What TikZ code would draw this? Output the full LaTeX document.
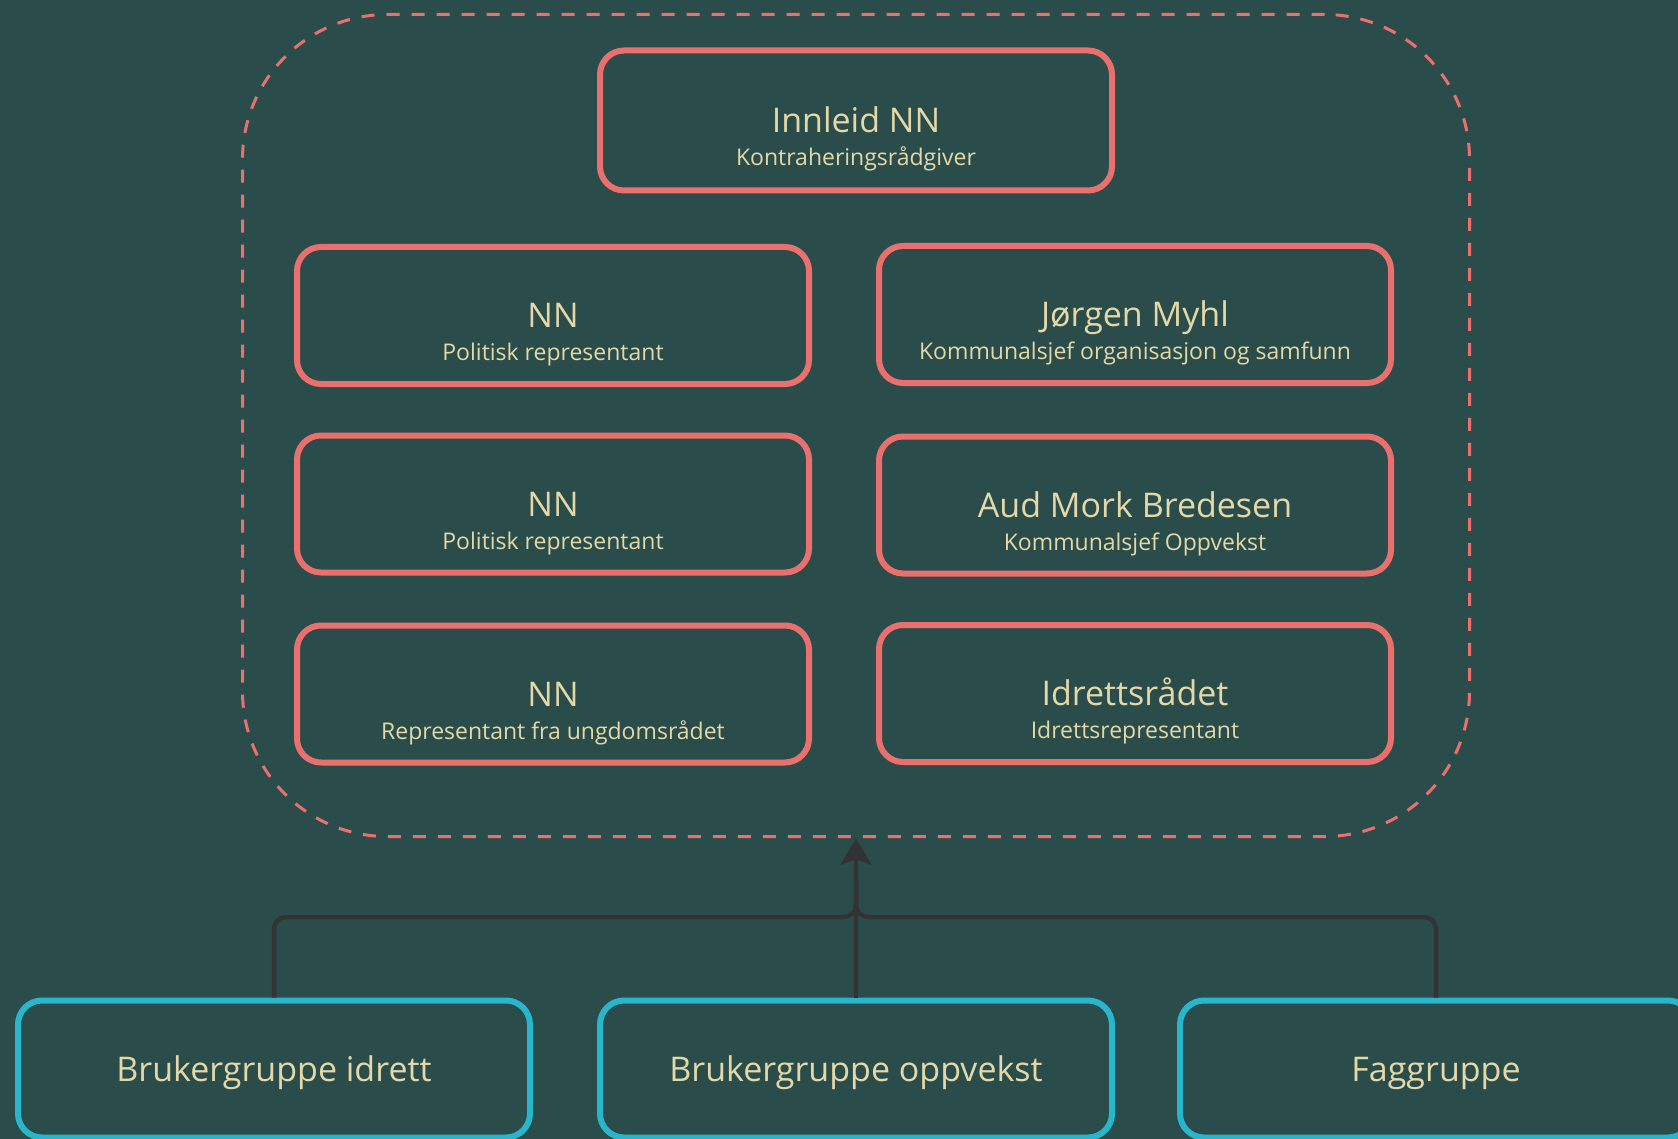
\documentclass[tikz,border=0pt]{standalone}
\usepackage{fontspec}
\setmainfont{Open Sans}
\usetikzlibrary{arrows.meta}
\definecolor{bgteal}{RGB}{42,77,75}
\definecolor{salmon}{RGB}{234,112,110}
\definecolor{cyanbox}{RGB}{40,182,204}
\definecolor{cream}{RGB}{228,216,168}
\definecolor{darkline}{RGB}{51,51,51}
\tikzset{
	member/.style={draw=salmon, line width=6pt, rounded corners=24pt, fill=bgteal, minimum width=512pt, minimum height=137pt, text=cream, font=\fontsize{34}{40}\selectfont, text height=24pt, text depth=0pt},
	role/.style={text=cream, font=\fontsize{23}{28}\selectfont, text height=16pt, text depth=0pt, yshift=-37pt},
	usergroup/.style={member, draw=cyanbox},
	team/.style={draw=salmon, line width=3pt, dash pattern=on 13pt off 12pt, rounded corners=145pt, minimum width=1227pt, minimum height=822pt},
	link/.style={draw=darkline, line width=4.5pt}
}
\begin{document}
\begin{tikzpicture}[x=1pt,y=-1pt]
	\useasboundingbox (0,0) rectangle (1678,1139);
	\fill[bgteal] (0,0) rectangle (1678,1139);
	\clip (0,0) rectangle (1678,1139);
	\node[team] (team) at (856,425.5) {};
	\node[member, minimum height=140pt, label={[role]center:Kontraheringsrådgiver}] (innleid) at (856,120.5) {Innleid NN};
	\node[member, label={[role]center:Politisk representant}] (nnPolA) at (553,315.5) {NN};
	\node[member, label={[role]center:Kommunalsjef organisasjon og samfunn}] (jorgen) at (1135,314.5) {Jørgen Myhl};
	\node[member, label={[role]center:Politisk representant}] (nnPolB) at (553,504) {NN};
	\node[member, label={[role]center:Kommunalsjef Oppvekst}] (aud) at (1135,505) {Aud Mork Bredesen};
	\node[member, label={[role]center:Representant fra ungdomsrådet}] (nnUng) at (553,694) {NN};
	\node[member, label={[role]center:Idrettsrepresentant}] (idrett) at (1135,693.5) {Idrettsrådet};
	\node[usergroup] (bIdrett) at (274,1069) {Brukergruppe idrett};
	\node[usergroup] (bOppvekst) at (856,1069) {Brukergruppe oppvekst};
	\node[usergroup] (fag) at (1436,1069) {Faggruppe};
	\coordinate (jn) at (856,917);
	\coordinate (jup) at (856,880);
	\draw[link, rounded corners=12pt] (bIdrett.north) |- (jn) -- (jup);
	\draw[link, rounded corners=12pt] (fag.north) |- (jn) -- (jup);
	\draw[link, -{Stealth[length=27pt,width=31pt,inset=6pt]}] (bOppvekst.north) -- (team.south);
\end{tikzpicture}
\end{document}
